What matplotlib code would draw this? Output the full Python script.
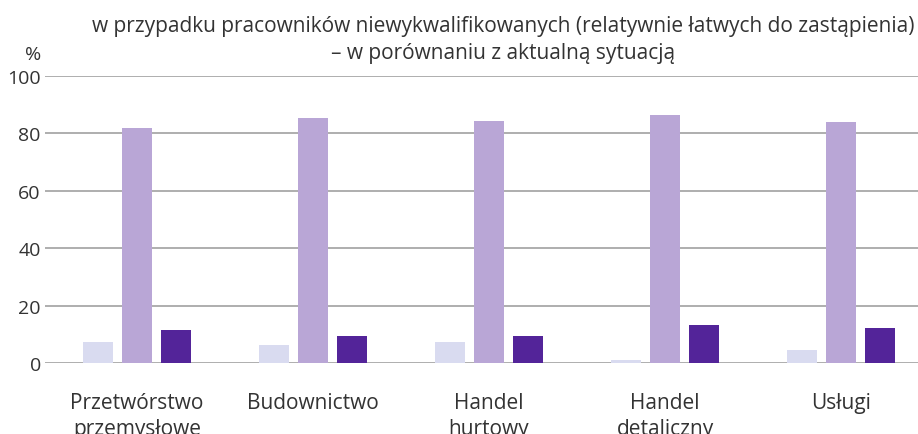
import matplotlib
matplotlib.use("Agg")
import matplotlib.pyplot as plt
import numpy as np

categories = ["Przetwórstwo\nprzemysłowe", "Budownictwo", "Handel\nhurtowy", "Handel\ndetaliczny", "Usługi"]
series_a = [7.4, 6.3, 7.2, 1.0, 4.6]
series_b = [81.9, 85.4, 84.3, 86.4, 84.0]
series_c = [11.5, 9.3, 9.4, 13.2, 12.3]
yticks = [0, 20, 40, 60, 80, 100]
title = "w przypadku pracowników niewykwalifikowanych (relatywnie łatwych do zastąpienia)\n– w porównaniu z aktualną sytuacją"

colors = ["#d9dbf0", "#b9a6d6", "#532499"]
txt = "#333333"
plt.rcParams['font.family'] = ['Open Sans', 'DejaVu Sans']

W, H = 918, 435
fig = plt.figure(figsize=(W/100, H/100), dpi=100)
ax = fig.add_axes([45/W, 1-364/H, (W-45)/W, (364-77)/H])

x = np.arange(len(categories))
bw = 30/176
off = 39/176
for i, (vals, c) in enumerate(zip([series_a, series_b, series_c], colors)):
    ax.bar(x + (i-1)*off, vals, width=bw, color=c, zorder=3)

ax.set_ylim(0, 100)
ax.set_xlim(-92/176, 4 + 77/176)
ax.set_yticks(yticks)
ax.set_yticklabels([str(v) for v in yticks], fontsize=14, color=txt)
ax.yaxis.grid(True, color="#a8a8a8", linewidth=1.3, zorder=0)
ax.set_axisbelow(True)
ax.tick_params(axis='y', length=0, pad=3)
ax.tick_params(axis='x', length=0, pad=21)
ax.set_xticks(x)
ax.set_xticklabels(categories, fontsize=15, color=txt, linespacing=1.3)
for s in ax.spines.values():
    s.set_visible(False)

fig.text(33/W, 1-55/H, "%", fontsize=14, color=txt, ha='center', va='center')
fig.text(503/W, 1-40/H, title, fontsize=15, color=txt, ha='center', va='center', linespacing=1.35)

fig.savefig("out.png", dpi=100)
